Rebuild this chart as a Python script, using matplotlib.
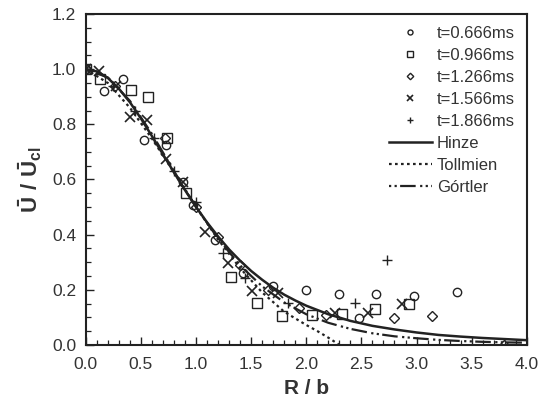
import matplotlib
matplotlib.use("Agg")
import matplotlib.pyplot as plt
from matplotlib.ticker import MultipleLocator

plt.rcParams['font.family'] = ['Liberation Sans', 'DejaVu Sans']
plt.rcParams['mathtext.fontset'] = 'custom'
plt.rcParams['mathtext.rm'] = 'Liberation Sans'
plt.rcParams['mathtext.bf'] = 'Liberation Sans:bold'

# ---- measured data (R/b, U/Ucl) ----
t0666_x = [0.0, 0.16, 0.34, 0.53, 0.73, 0.88, 0.97, 1.17, 1.43, 1.70, 2.00, 2.30, 2.48, 2.63, 2.98, 3.37]
t0666_y = [1.0, 0.92, 0.965, 0.745, 0.725, 0.59, 0.507, 0.38, 0.26, 0.214, 0.20, 0.184, 0.097, 0.185, 0.179, 0.191]

t0966_x = [0.0, 0.13, 0.41, 0.565, 0.74, 0.91, 1.32, 1.55, 1.78, 2.05, 2.32, 2.62, 2.93]
t0966_y = [1.0, 0.964, 0.926, 0.90, 0.752, 0.55, 0.247, 0.153, 0.103, 0.109, 0.111, 0.13, 0.147]

t1266_x = [0.0, 0.26, 0.72, 1.0, 1.2, 1.4, 1.65, 1.93, 2.18, 2.80, 3.14, 3.79]
t1266_y = [1.0, 0.94, 0.75, 0.50, 0.39, 0.29, 0.20, 0.133, 0.11, 0.097, 0.103, 0.0]

t1566_x = [0.0, 0.12, 0.27, 0.40, 0.556, 0.73, 0.88, 1.08, 1.29, 1.51, 1.74, 2.26, 2.56, 2.87]
t1566_y = [1.0, 0.994, 0.94, 0.827, 0.815, 0.673, 0.592, 0.41, 0.298, 0.196, 0.187, 0.115, 0.117, 0.147]

t1866_x = [0.0, 0.25, 0.45, 0.62, 0.80, 1.0, 1.24, 1.44, 1.83, 2.44, 2.73]
t1866_y = [1.0, 0.94, 0.85, 0.75, 0.63, 0.52, 0.332, 0.243, 0.153, 0.151, 0.308]

# ---- theoretical profiles ----
hinze_x = [0.0, 0.1, 0.2, 0.3, 0.4, 0.5, 0.6, 0.7, 0.8, 0.9, 1.0, 1.1, 1.2, 1.3, 1.4, 1.5, 1.6, 1.7,
           1.8, 1.9, 2.0, 2.2, 2.4, 2.6, 2.8, 3.0, 3.2, 3.4, 3.6, 3.8, 4.0]
hinze_y = [1.0, 0.992, 0.968, 0.929, 0.880, 0.821, 0.757, 0.691, 0.625, 0.561, 0.500, 0.444, 0.393,
           0.346, 0.305, 0.268, 0.236, 0.207, 0.182, 0.161, 0.142, 0.111, 0.087, 0.069, 0.056, 0.045,
           0.036, 0.030, 0.025, 0.021, 0.017]

tollmien_x = [0.0, 0.2, 0.4, 0.6, 0.8, 1.0, 1.2, 1.4, 1.6, 1.8, 2.0, 2.1, 2.2, 2.3]
tollmien_y = [1.0, 0.950, 0.860, 0.748, 0.625, 0.500, 0.382, 0.278, 0.190, 0.120, 0.072, 0.050, 0.026, 0.0]

gortler_x = [0.0, 0.2, 0.4, 0.6, 0.8, 1.0, 1.2, 1.4, 1.6, 1.8, 2.0, 2.2, 2.4, 2.6, 2.8, 3.0, 3.2,
             3.4, 3.6, 3.8, 4.0]
gortler_y = [1.0, 0.970, 0.885, 0.765, 0.630, 0.500, 0.385, 0.288, 0.212, 0.154, 0.111, 0.080, 0.058,
             0.042, 0.031, 0.024, 0.018, 0.014, 0.011, 0.009, 0.008]

ink = '#222222'
txt = '#333333'

fig = plt.figure(figsize=(5.47, 4.15), dpi=100)
ax = fig.add_axes([0.157, 0.169, 0.806, 0.797])

ms = dict(linestyle='none', markerfacecolor='none', markeredgecolor=ink, markeredgewidth=1.0)
ax.plot(t0666_x, t0666_y, marker='o', markersize=6, label='t=0.666ms', **ms)
ax.plot(t0966_x, t0966_y, marker='s', markersize=7, label='t=0.966ms', **ms)
ax.plot(t1266_x, t1266_y, marker='D', markersize=5.5, label='t=1.266ms', **ms)
ax.plot(t1566_x, t1566_y, marker='x', markersize=7, label='t=1.566ms', color=ink,
        linestyle='none', markeredgewidth=1.2)
ax.plot(t1866_x, t1866_y, marker='+', markersize=7, label='t=1.866ms', color=ink,
        linestyle='none', markeredgewidth=1.0)

ax.plot(hinze_x, hinze_y, '-', color=ink, lw=1.8, label='Hinze')
ax.plot(tollmien_x, tollmien_y, linestyle=(0, (1.2, 1.5)), color=ink, lw=1.6, label='Tollmien')
ax.plot(gortler_x, gortler_y, linestyle=(0, (1.0, 1.5, 1.0, 1.5, 7, 2)), color=ink, lw=1.6,
        label='Górtler')

ax.set_xlim(0, 4.0)
ax.set_ylim(0, 1.2)
ax.xaxis.set_major_locator(MultipleLocator(0.5))
ax.xaxis.set_minor_locator(MultipleLocator(0.1))
ax.yaxis.set_major_locator(MultipleLocator(0.2))
ax.yaxis.set_minor_locator(MultipleLocator(0.05))
ax.xaxis.set_major_formatter(matplotlib.ticker.FormatStrFormatter('%.1f'))
ax.yaxis.set_major_formatter(matplotlib.ticker.FormatStrFormatter('%.1f'))
ax.tick_params(which='major', direction='in', length=6, width=1.0, color=ink,
               labelsize=12.5, labelcolor=txt)
ax.tick_params(axis='x', which='major', pad=9)
ax.tick_params(axis='y', which='major', pad=7)
ax.tick_params(which='minor', direction='in', length=3.5, width=0.9, color=ink)
for s in ax.spines.values():
    s.set_linewidth(1.5)
    s.set_color(ink)

ax.set_xlabel('R / b', fontsize=15, fontweight='bold', color=txt, labelpad=5)
ax.set_ylabel(r'$\mathbf{\bar{U}\ /\ \bar{U}_{cl}}$', fontsize=16, color=txt, labelpad=6)

leg = ax.legend(loc='upper right', frameon=False, fontsize=12, markerscale=0.6,
                handlelength=2.6, handletextpad=0.3, labelspacing=0.42,
                borderaxespad=0.3)
for t in leg.get_texts():
    t.set_color(txt)

fig.savefig('out.png', dpi=100)
